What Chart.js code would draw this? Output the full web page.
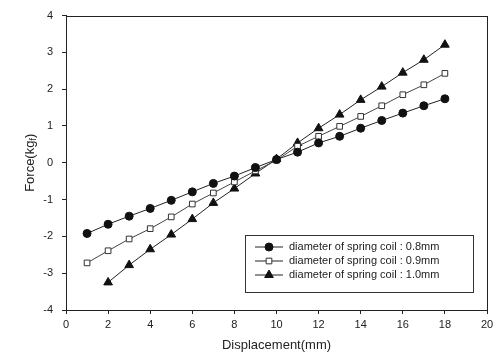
<!DOCTYPE html>
<html lang="en">
<head>
  <meta charset="UTF-8" />
  <title>Force vs Displacement</title>
  <script src="https://cdn.jsdelivr.net/npm/chart.js@4.4.1/dist/chart.umd.min.js"></script>
  <style>
    body { margin: 0; background: #fff; }
    .wrap { width: 500px; height: 353px; }
  </style>
</head>
<body>
  <div class="wrap"><canvas id="chart"></canvas></div>
  <script>
    // --- data ---
    const displacement = [1, 2, 3, 4, 5, 6, 7, 8, 9, 10, 11, 12, 13, 14, 15, 16, 17, 18];
    const displacement10 = [2, 3, 4, 5, 6, 7, 8, 9, 10, 11, 12, 13, 14, 15, 16, 17, 18];
    const force08 = [-1.92, -1.67, -1.45, -1.24, -1.02, -0.79, -0.56, -0.36, -0.13, 0.09, 0.29, 0.54, 0.72, 0.94, 1.15, 1.35, 1.55, 1.74];
    const force09 = [-2.72, -2.39, -2.07, -1.79, -1.47, -1.12, -0.82, -0.52, -0.22, 0.07, 0.45, 0.72, 0.99, 1.26, 1.55, 1.85, 2.12, 2.43];
    const force10 = [-3.25, -2.78, -2.35, -1.95, -1.53, -1.09, -0.70, -0.29, 0.10, 0.54, 0.94, 1.31, 1.71, 2.07, 2.45, 2.80, 3.21];
    const seriesLabels = [
      'diameter of spring coil : 0.8mm',
      'diameter of spring coil : 0.9mm',
      'diameter of spring coil : 1.0mm'
    ];

    const FONT = '"Liberation Sans", Arial, sans-serif';
    const toPoints = (xs, ys) => xs.map((x, i) => ({ x: x, y: ys[i] }));

    // frame around the plot, y title with subscript, boxed legend inside the plot
    const extras = {
      id: 'extras',
      afterDraw(chart) {
        const { ctx, chartArea: a } = chart;
        ctx.save();
        ctx.strokeStyle = '#222';
        ctx.lineWidth = 1;
        ctx.strokeRect(Math.round(a.left) + 0.5, Math.round(a.top) + 0.5,
          Math.round(a.right - a.left), Math.round(a.bottom - a.top));

        // y axis title: Force(kg_f)
        ctx.translate(30, (a.top + a.bottom) / 2);
        ctx.rotate(-Math.PI / 2);
        ctx.fillStyle = '#222';
        ctx.textBaseline = 'middle';
        ctx.textAlign = 'left';
        ctx.font = '13px ' + FONT;
        const w1 = ctx.measureText('Force(kg').width;
        const w3 = ctx.measureText(')').width;
        ctx.font = '9px ' + FONT;
        const w2 = ctx.measureText('f').width;
        const x0 = -(w1 + w2 + w3) / 2;
        ctx.font = '13px ' + FONT;
        ctx.fillText('Force(kg', x0, 0);
        ctx.fillText(')', x0 + w1 + w2, 0);
        ctx.font = '9px ' + FONT;
        ctx.fillText('f', x0 + w1, 4);
        ctx.restore();

        // legend
        ctx.save();
        const bx = 245, by = 235, bw = 228, bh = 57;
        ctx.fillStyle = '#fff';
        ctx.fillRect(bx, by, bw, bh);
        ctx.strokeStyle = '#333';
        ctx.lineWidth = 1;
        ctx.strokeRect(bx + 0.5, by + 0.5, bw, bh);
        ctx.font = '11px ' + FONT;
        ctx.textBaseline = 'middle';
        ctx.textAlign = 'left';
        chart.data.datasets.forEach((ds, i) => {
          const ry = by + 12 + i * 14;
          ctx.strokeStyle = '#222';
          ctx.beginPath();
          ctx.moveTo(bx + 10, ry);
          ctx.lineTo(bx + 38, ry);
          ctx.stroke();
          ctx.fillStyle = ds.pointBackgroundColor;
          ctx.strokeStyle = ds.pointBorderColor;
          Chart.helpers.drawPoint(ctx, {
            pointStyle: ds.pointStyle,
            radius: ds.pointRadius,
            borderWidth: 1,
            rotation: 0
          }, bx + 24, ry);
          ctx.fillStyle = '#222';
          ctx.fillText(ds.label, bx + 44, ry);
        });
        ctx.restore();
      }
    };

    new Chart(document.getElementById('chart'), {
      type: 'line',
      data: {
        datasets: [
          {
            label: seriesLabels[0],
            data: toPoints(displacement, force08),
            borderColor: '#222',
            borderWidth: 1,
            pointStyle: 'circle',
            pointRadius: 4,
            pointBackgroundColor: '#111',
            pointBorderColor: '#111'
          },
          {
            label: seriesLabels[1],
            data: toPoints(displacement, force09),
            borderColor: '#444',
            borderWidth: 1,
            pointStyle: 'rect',
            pointRadius: 4,
            pointBackgroundColor: '#fff',
            pointBorderColor: '#333'
          },
          {
            label: seriesLabels[2],
            data: toPoints(displacement10, force10),
            borderColor: '#222',
            borderWidth: 1,
            pointStyle: 'triangle',
            pointRadius: 5,
            pointBackgroundColor: '#111',
            pointBorderColor: '#111'
          }
        ]
      },
      options: {
        responsive: true,
        maintainAspectRatio: false,
        animation: false,
        layout: { padding: { top: 15, right: 13, left: 0, bottom: 0 } },
        plugins: {
          legend: { display: false },
          tooltip: { enabled: false }
        },
        scales: {
          x: {
            type: 'linear',
            min: 0,
            max: 20,
            ticks: { stepSize: 2, color: '#222', font: { family: FONT, size: 11 }, padding: 4 },
            grid: { drawOnChartArea: false, tickLength: 4, color: '#222' },
            border: { color: '#222' },
            title: {
              display: true,
              text: 'Displacement(mm)',
              color: '#222',
              font: { family: FONT, size: 13 },
              padding: { top: 2, bottom: 0 }
            },
            afterFit(scale) { scale.height = 43; }
          },
          y: {
            min: -4,
            max: 4,
            ticks: { stepSize: 1, color: '#222', font: { family: FONT, size: 11 }, padding: 9 },
            grid: { drawOnChartArea: false, tickLength: 4, color: '#222' },
            border: { color: '#222' },
            afterFit(scale) { scale.width = 66; }
          }
        }
      },
      plugins: [extras]
    });
  </script>
</body>
</html>
